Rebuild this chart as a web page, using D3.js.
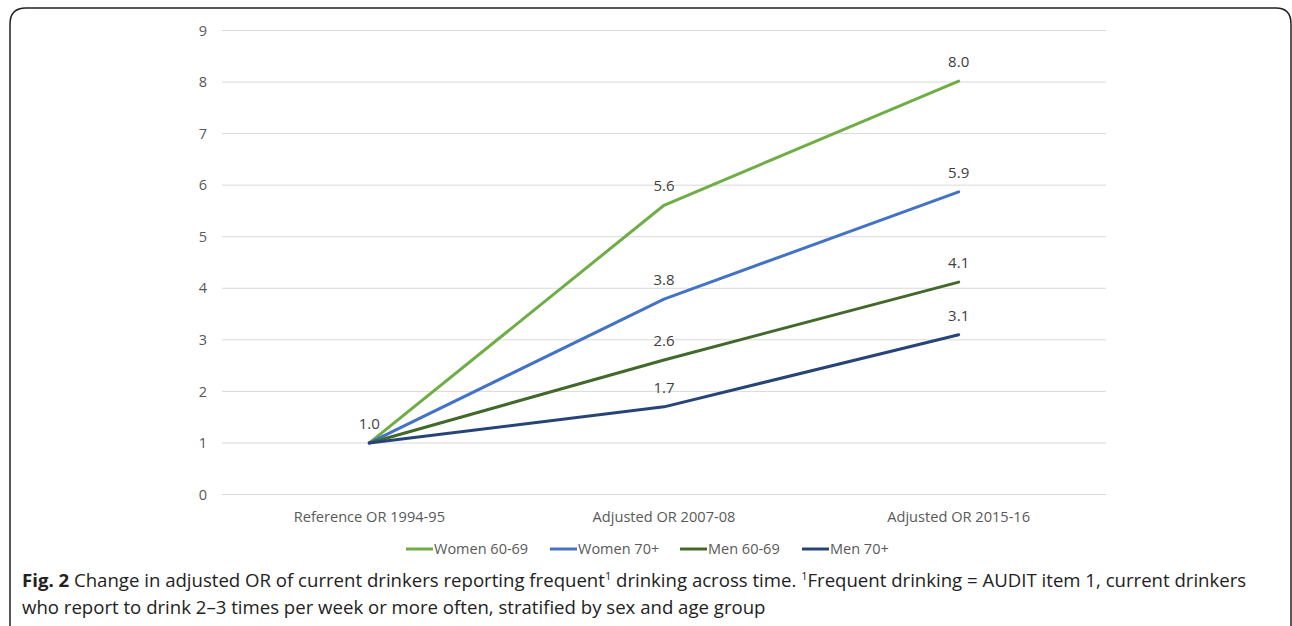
<!DOCTYPE html>
<html><head><meta charset="utf-8">
<script src="https://cdn.jsdelivr.net/npm/d3@7"></script>
<style>body{margin:0;background:#fff}svg{display:block}</style>
</head><body><svg id="c" width="1292" height="626"></svg>
<script>
const categories = ["Reference OR 1994-95", "Adjusted OR 2007-08", "Adjusted OR 2015-16"];
const seriesNames = ["Women 60-69", "Women 70+", "Men 60-69", "Men 70+"];
const women6069 = [1.0, 5.61, 8.02];
const women70 = [1.0, 3.79, 5.87];
const men6069 = [1.0, 2.61, 4.12];
const men70 = [1.0, 1.70, 3.10];
const yTicks = [0,1,2,3,4,5,6,7,8,9];
const colors = ["#70AD47", "#4472C4", "#43682B", "#264478"];
const seriesValues = [women6069, women70, men6069, men70];

const svg = d3.select("#c");
const font = "'Open Sans', sans-serif";

// frame
svg.append("path")
  .attr("d", "M10,626 L10,24 Q10,8 26,8 L1276,8 Q1291,8 1291,24 L1291,626")
  .attr("fill","none").attr("stroke","#222").attr("stroke-width",1.5);

const x = d3.scaleBand().domain(categories).range([222,1106]);
const y = d3.scaleLinear().domain([0,9]).range([494.5,30.5]);

const g = svg.append("g");
g.selectAll("line.grid").data(yTicks).join("line")
  .attr("x1",222).attr("x2",1106)
  .attr("y1",d=>y(d)).attr("y2",d=>y(d))
  .attr("stroke","#d9d9d9").attr("stroke-width",1);

const yAxis = svg.append("g").attr("transform","translate(222,0)")
  .call(d3.axisLeft(y).tickValues(yTicks).tickSize(0).tickPadding(15).tickFormat(d3.format("d")));
yAxis.select(".domain").remove();
yAxis.selectAll("text").attr("font-family",font).attr("font-size",14.5).attr("fill","#595959");

const xAxis = svg.append("g").attr("transform","translate(0,494.5)")
  .call(d3.axisBottom(x).tickSize(0).tickPadding(17));
xAxis.select(".domain").remove();
xAxis.selectAll("text").attr("font-family",font).attr("font-size",14.6).attr("fill","#595959");

const cx = d => x(d) + x.bandwidth()/2;
const line = d3.line().x((d,i)=>cx(categories[i])).y(d=>y(d));

seriesValues.forEach((vals,si)=>{
  svg.append("path").datum(vals).attr("d",line)
    .attr("fill","none").attr("stroke",colors[si]).attr("stroke-width",3)
    .attr("stroke-linecap","round").attr("stroke-linejoin","round");
});
seriesValues.forEach((vals,si)=>{
  svg.selectAll(null).data(vals.map((v,i)=>({v,i}))).join("text")
    .filter(d=> !(d.i===0 && si>0))
    .attr("x",d=>cx(categories[d.i])).attr("y",d=>y(d.v)-14)
    .attr("text-anchor","middle").attr("font-family",font).attr("font-size",15)
    .attr("fill","#404040").text(d=>d3.format(".1f")(d.v));
});

// legend
const legendX = [406, 550, 680, 802];
const lg = svg.append("g");
seriesNames.forEach((n,i)=>{
  lg.append("line").attr("x1",legendX[i]).attr("x2",legendX[i]+27)
    .attr("y1",549).attr("y2",549).attr("stroke",colors[i]).attr("stroke-width",3);
  lg.append("text").attr("x",legendX[i]+28).attr("y",554)
    .attr("font-family",font).attr("font-size",14.5).attr("fill","#595959").text(n);
});

// caption
const cap = svg.append("text").attr("font-family",font).attr("font-size",18.6).attr("fill","#222");
const l1 = cap.append("tspan").attr("x",22).attr("y",587);
l1.append("tspan").attr("font-weight","bold").text("Fig. 2");
l1.append("tspan").text(" Change in adjusted OR of current drinkers reporting frequent");
l1.append("tspan").attr("font-size",11).attr("dy",-7).text("1");
l1.append("tspan").attr("dy",7).text(" drinking across time. ");
l1.append("tspan").attr("font-size",11).attr("dy",-7).text("1");
l1.append("tspan").attr("dy",7).text("Frequent drinking = AUDIT item 1, current drinkers");
cap.append("tspan").attr("x",22).attr("y",614)
  .text("who report to drink 2\u20133 times per week or more often, stratified by sex and age group");
</script></body></html>
